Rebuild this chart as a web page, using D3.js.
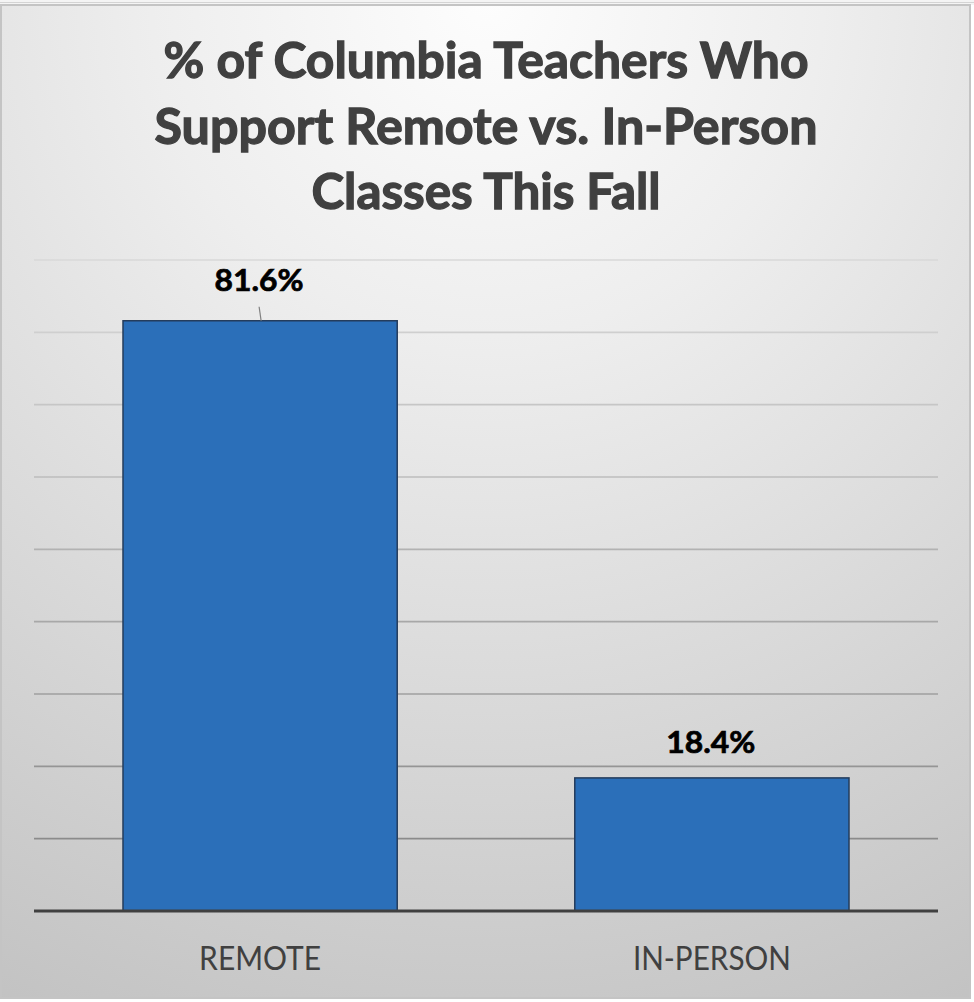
<!DOCTYPE html>
<html>
<head>
<meta charset="utf-8">
<script src="https://cdn.jsdelivr.net/npm/d3@7"></script>
<style>
  html, body { margin: 0; padding: 0; background: #ffffff; }
  svg { display: block; }
</style>
</head>
<body>
<div id="chart"></div>
<script>
// % of Columbia Teachers Who Support Remote vs. In-Person Classes This Fall

var categories = ["REMOTE", "IN-PERSON"];
var values = [81.6, 18.4];
var valueLabels = ["81.6%", "18.4%"];
var titleLines = ["% of Columbia Teachers Who", "Support Remote vs. In-Person", "Classes This Fall"];
var gridTicks = [10, 20, 30, 40, 50, 60, 70, 80, 90];

var svgWidth = 974;
var svgHeight = 1002;

var plot = { left: 34, right: 938, top: 260, bottom: 911 };

var svg = d3.select("#chart")
  .append("svg")
  .attr("width", svgWidth)
  .attr("height", svgHeight);

// background gradient for the chart area
var defs = svg.append("defs");
var grad = defs.append("radialGradient")
  .attr("id", "bg")
  .attr("gradientUnits", "userSpaceOnUse")
  .attr("cx", 487).attr("cy", 0).attr("r", 1120);
grad.append("stop").attr("offset", "0").attr("stop-color", "#fdfdfd");
grad.append("stop").attr("offset", "0.3").attr("stop-color", "#eeeeee");
grad.append("stop").attr("offset", "1").attr("stop-color", "#c2c2c2");

// spreadsheet strip behind the chart
svg.append("rect")
  .attr("x", 0).attr("y", 0).attr("width", svgWidth).attr("height", 5)
  .attr("fill", "#f4f4f4");
svg.append("line")
  .attr("x1", 0).attr("x2", svgWidth).attr("y1", 2.5).attr("y2", 2.5)
  .attr("stroke", "#d4d4d4").attr("stroke-width", 1);

svg.append("rect")
  .attr("x", 1).attr("y", 5).attr("width", 969).attr("height", 993)
  .attr("fill", "url(#bg)")
  .attr("stroke", "#c4c4c4")
  .attr("stroke-width", 2);

var x = d3.scaleBand()
  .domain(categories)
  .range([plot.left, plot.right])
  .paddingInner(0.393)
  .paddingOuter(0.197);

var y = d3.scaleLinear()
  .domain([0, 90])
  .range([plot.bottom, plot.top]);

var gridColor = d3.scaleLinear()
  .domain([90, 10])
  .range(["#d9d9d9", "#8b8b8b"]);

// gridlines
svg.append("g")
  .selectAll("line")
  .data(gridTicks)
  .enter()
  .append("line")
  .attr("x1", plot.left)
  .attr("x2", plot.right)
  .attr("y1", function(d) { return y(d); })
  .attr("y2", function(d) { return y(d); })
  .attr("stroke", function(d) { return gridColor(d); })
  .attr("stroke-width", 1.6);

// bars
svg.append("g")
  .selectAll("rect")
  .data(values)
  .enter()
  .append("rect")
  .attr("x", function(d, i) { return x(categories[i]); })
  .attr("y", function(d) { return y(d); })
  .attr("width", x.bandwidth())
  .attr("height", function(d) { return y(0) - y(d); })
  .attr("fill", "#2b6fb9")
  .attr("stroke", "#243c5c")
  .attr("stroke-width", 1.5);

// x axis line
var xAxis = svg.append("g")
  .attr("transform", "translate(0," + y(0) + ")")
  .call(d3.axisBottom(x).tickSize(0).tickPadding(38));
xAxis.select(".domain")
  .attr("d", "M" + plot.left + ",0H" + plot.right)
  .attr("stroke", "#404040")
  .attr("stroke-width", 3);
xAxis.selectAll(".tick text")
  .attr("fill", "#404040")
  .attr("font-family", "Lato, 'Open Sans', sans-serif")
  .attr("font-size", 32)
  .attr("dy", 0)
  .attr("y", 59)
  .attr("textLength", function(d) { return d === "REMOTE" ? 122 : 158; })
  .attr("lengthAdjust", "spacingAndGlyphs");

// data labels
var labelOffset = [30, 25];
svg.append("g")
  .selectAll("text")
  .data(values)
  .enter()
  .append("text")
  .attr("x", function(d, i) { return x(categories[i]) + x.bandwidth() / 2 - 1; })
  .attr("y", function(d, i) { return y(d) - labelOffset[i]; })
  .attr("text-anchor", "middle")
  .attr("font-family", "Lato, 'Open Sans', sans-serif")
  .attr("font-weight", "bold")
  .attr("font-size", 31)
  .attr("fill", "#000000")
  .attr("stroke", "#000000")
  .attr("stroke-width", 0.7)
  .attr("textLength", 89)
  .attr("lengthAdjust", "spacingAndGlyphs")
  .text(function(d, i) { return valueLabels[i]; });

// leader line for the first label
svg.append("line")
  .attr("x1", x(categories[0]) + x.bandwidth() / 2 - 1)
  .attr("y1", y(values[0]) - 14)
  .attr("x2", x(categories[0]) + x.bandwidth() / 2 + 1)
  .attr("y2", y(values[0]))
  .attr("stroke", "#7f7f7f")
  .attr("stroke-width", 1.2);

// title
var titleWidths = [645, 663, 349];
var titleBase = [78, 144, 209];
svg.append("g")
  .selectAll("text")
  .data(titleLines)
  .enter()
  .append("text")
  .attr("x", 486)
  .attr("y", function(d, i) { return titleBase[i]; })
  .attr("text-anchor", "middle")
  .attr("font-family", "Lato, 'Open Sans', sans-serif")
  .attr("font-weight", "bold")
  .attr("font-size", 50)
  .attr("fill", "#404040")
  .attr("stroke", "#404040")
  .attr("stroke-width", 1.3)
  .attr("textLength", function(d, i) { return titleWidths[i]; })
  .attr("lengthAdjust", "spacingAndGlyphs")
  .text(function(d) { return d; });
</script>
</body>
</html>
